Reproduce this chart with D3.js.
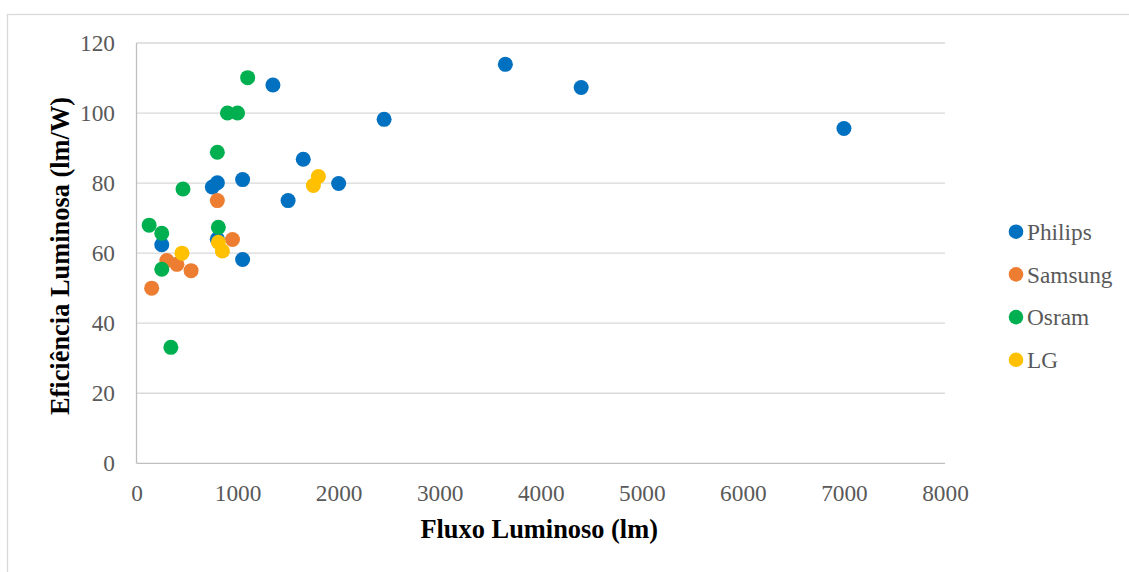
<!DOCTYPE html>
<html>
<head>
<meta charset="utf-8">
<script src="https://cdn.jsdelivr.net/npm/d3@7"></script>
<style>
  html, body { margin: 0; padding: 0; background: #fff; }
  svg { display: block; }
</style>
</head>
<body>
<svg id="chart" width="1129" height="572"></svg>
<script>
const seriesNames = ["Philips", "Samsung", "Osram", "LG"];
const seriesColors = ["#0070C0", "#ED7D31", "#00B050", "#FFC000"];

const philipsX = [3650, 4400, 1350, 2450, 7000, 1650, 1050, 800, 750, 2000, 1500, 250, 800, 1050];
const philipsY = [113.9, 107.3, 108, 98.2, 95.6, 86.8, 81, 80.1, 78.9, 79.9, 75, 62.4, 64, 58.2];

const samsungX = [800, 950, 300, 400, 540, 150];
const samsungY = [75, 63.9, 57.9, 56.8, 55, 50];

const osramX = [1100, 900, 1000, 800, 460, 125, 250, 810, 250, 340];
const osramY = [110.1, 100, 100, 88.8, 78.3, 68, 65.7, 67.4, 55.4, 33.1];

const lgX = [1800, 1750, 810, 850, 450];
const lgY = [81.9, 79.3, 63.1, 60.6, 60];

const xTicks = [0, 1000, 2000, 3000, 4000, 5000, 6000, 7000, 8000];
const yTicks = [0, 20, 40, 60, 80, 100, 120];

const xTitle = "Fluxo Luminoso (lm)";
const yTitle = "Eficiência Luminosa (lm/W)";

const seriesX = [philipsX, samsungX, osramX, lgX];
const seriesY = [philipsY, samsungY, osramY, lgY];

const svg = d3.select("#chart");
const font = "'Liberation Serif', 'Times New Roman', serif";

// outer chart border
svg.append("rect")
  .attr("x", 7.5).attr("y", 14.5)
  .attr("width", 1140).attr("height", 580)
  .attr("fill", "none").attr("stroke", "#d9d9d9").attr("stroke-width", 1.3);

const plot = { left: 136.5, right: 945, top: 43, bottom: 463.3 };

const x = d3.scaleLinear().domain([0, 8000]).range([plot.left, plot.right]);
const y = d3.scaleLinear().domain([0, 120]).range([plot.bottom, plot.top]);

// gridlines
svg.append("g")
  .selectAll("line")
  .data(yTicks.filter(d => d > 0))
  .join("line")
  .attr("x1", plot.left).attr("x2", plot.right)
  .attr("y1", d => y(d)).attr("y2", d => y(d))
  .attr("stroke", "#d9d9d9").attr("stroke-width", 1.3);

// axes lines
svg.append("line")
  .attr("x1", plot.left).attr("x2", plot.left)
  .attr("y1", plot.top).attr("y2", plot.bottom)
  .attr("stroke", "#bfbfbf").attr("stroke-width", 1.3);
svg.append("line")
  .attr("x1", plot.left).attr("x2", plot.right)
  .attr("y1", plot.bottom).attr("y2", plot.bottom)
  .attr("stroke", "#bfbfbf").attr("stroke-width", 1.3);

// axis tick labels via d3 axes (domain/ticks hidden)
const yAxis = d3.axisLeft(y).tickValues(yTicks).tickSize(0).tickPadding(21.5);
const gy = svg.append("g").attr("transform", `translate(${plot.left},0)`).call(yAxis);
gy.select(".domain").remove();
gy.selectAll("text")
  .attr("font-family", font).attr("font-size", "23.3px").attr("fill", "#595959");

const xAxis = d3.axisBottom(x).tickValues(xTicks).tickSize(0).tickPadding(21).tickFormat(d3.format("d"));
const gx = svg.append("g").attr("transform", `translate(0,${plot.bottom})`).call(xAxis);
gx.select(".domain").remove();
gx.selectAll("text")
  .attr("font-family", font).attr("font-size", "23.3px").attr("fill", "#595959");

// points
seriesNames.forEach((name, i) => {
  const pts = seriesX[i].map((v, j) => [v, seriesY[i][j]]);
  svg.append("g")
    .selectAll("circle")
    .data(pts)
    .join("circle")
    .attr("cx", d => x(d[0]))
    .attr("cy", d => y(d[1]))
    .attr("r", 7.5)
    .attr("fill", seriesColors[i]);
});

// axis titles
svg.append("text")
  .attr("x", 539.2)
  .attr("y", 538)
  .attr("text-anchor", "middle")
  .attr("font-family", font).attr("font-weight", "bold")
  .attr("font-size", "26.4px").attr("fill", "#000")
  .text(xTitle);

svg.append("text")
  .attr("transform", `translate(69,256) rotate(-90)`)
  .attr("text-anchor", "middle")
  .attr("font-family", font).attr("font-weight", "bold")
  .attr("font-size", "26.4px").attr("fill", "#000")
  .text(yTitle);

// legend
const legend = svg.append("g");
seriesNames.forEach((name, i) => {
  const cy = 231.7 + i * 42.7;
  legend.append("circle")
    .attr("cx", 1016).attr("cy", cy).attr("r", 7.3)
    .attr("fill", seriesColors[i]);
  legend.append("text")
    .attr("x", 1027).attr("y", cy)
    .attr("dy", "0.35em")
    .attr("font-family", font).attr("font-size", "23.3px").attr("fill", "#595959")
    .text(name);
});
</script>
</body>
</html>
